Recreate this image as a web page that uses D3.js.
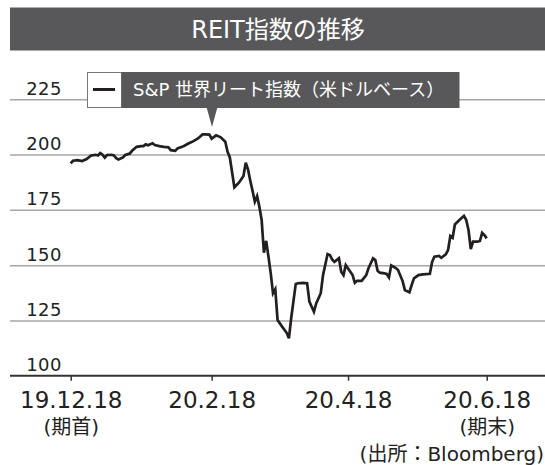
<html>
<head>
<meta charset="utf-8">
<style>
  body { margin: 0; background: #fff; }
  text { font-family: "DejaVu Sans", "Noto Sans CJK JP", sans-serif; }
</style>
</head>
<body>
<svg id="chart" width="545" height="465"></svg>
<script src="https://cdn.jsdelivr.net/npm/d3@7"></script>
<script>
const dates = [
  "2019-12-18","2019-12-19","2019-12-21","2019-12-23","2019-12-25","2019-12-27","2019-12-29","2019-12-30","2019-12-31",
  "2020-01-01","2020-01-02","2020-01-03","2020-01-05","2020-01-06","2020-01-07","2020-01-08","2020-01-10","2020-01-11",
  "2020-01-13","2020-01-14","2020-01-16","2020-01-18","2020-01-19","2020-01-20","2020-01-21","2020-01-23","2020-01-24",
  "2020-01-26","2020-01-28","2020-01-30","2020-01-31","2020-02-02","2020-02-03","2020-02-05","2020-02-06","2020-02-08",
  "2020-02-10","2020-02-12","2020-02-14","2020-02-15","2020-02-17","2020-02-18","2020-02-20","2020-02-22","2020-02-24",
  "2020-02-25","2020-02-26","2020-02-28","2020-03-01","2020-03-03","2020-03-04","2020-03-05","2020-03-06","2020-03-07",
  "2020-03-08","2020-03-09","2020-03-10","2020-03-11","2020-03-12","2020-03-13","2020-03-14","2020-03-15","2020-03-16",
  "2020-03-17","2020-03-18","2020-03-20","2020-03-22","2020-03-23","2020-03-24","2020-03-26","2020-03-27","2020-03-29",
  "2020-03-31","2020-04-01","2020-04-03","2020-04-04","2020-04-06","2020-04-07","2020-04-09","2020-04-10","2020-04-11",
  "2020-04-12","2020-04-14","2020-04-15","2020-04-16","2020-04-17","2020-04-19","2020-04-20","2020-04-21","2020-04-22",
  "2020-04-24","2020-04-26","2020-04-27","2020-04-29","2020-04-30","2020-05-01","2020-05-02","2020-05-04","2020-05-05",
  "2020-05-06","2020-05-07","2020-05-09","2020-05-10","2020-05-12","2020-05-13","2020-05-15","2020-05-16","2020-05-17",
  "2020-05-19","2020-05-21","2020-05-24","2020-05-25","2020-05-26","2020-05-28","2020-05-29","2020-05-31","2020-06-01",
  "2020-06-02","2020-06-03","2020-06-04","2020-06-06","2020-06-08","2020-06-09","2020-06-10","2020-06-11","2020-06-12",
  "2020-06-14","2020-06-15","2020-06-16","2020-06-17","2020-06-18"
]
const values = [
  196.0,197.2,197.5,197.1,198.0,199.6,199.9,199.6,200.7,
  199.9,198.6,199.8,199.9,199.6,198.4,197.8,198.7,199.8,
  200.5,201.7,203.5,203.8,203.8,204.6,204.2,205.1,204.3,
  203.8,203.5,203.3,202.0,201.7,202.8,203.5,204.0,205.1,
  206.1,207.3,209.1,209.1,209.0,207.2,208.7,207.8,205.8,
  201.3,198.7,185.2,187.3,190.3,196.3,193.3,188.2,183.6,
  178.7,181.2,176.4,170.4,155.6,161.0,153.8,146.3,137.3,
  139.1,125.2,122.2,119.4,116.9,126.1,141.5,141.8,142.0,
  141.8,133.5,128.9,132.7,137.3,145.5,155.0,154.6,152.6,
  151.5,153.1,147.0,145.5,150.0,147.0,145.5,142.0,142.9,
  142.9,145.5,148.6,153.1,152.3,147.5,146.6,146.3,146.0,
  144.4,149.9,148.7,147.8,142.8,138.7,137.7,141.0,144.0,
  145.5,145.8,146.1,151.5,153.8,154.2,153.3,154.9,156.8,
  163.2,162.4,168.4,170.4,172.3,170.4,165.9,157.3,160.6,
  160.6,160.9,164.6,163.6,162.1
]
const yTicks = [100, 125, 150, 175, 200, 225]
const xTicks = ["2019-12-18", "2020-02-18", "2020-04-18", "2020-06-18"]
const xTickLabels = ["19.12.18", "20.2.18", "20.4.18", "20.6.18"]
const xTickSubLabels = ["(期首)", "", "", "(期末)"]
const titleText = "REIT指数の推移"
const seriesName = "S&P 世界リート指数（米ドルベース）"
const sourceText = "(出所：Bloomberg)"

const parse = d3.timeParse("%Y-%m-%d")
const data = dates.map((d, i) => ({date: parse(d), value: values[i]}))

const svg = d3.select("#chart")
const dark = "#58585a"
const lineColor = "#231f20"

let x = d3.scaleTime()
    .domain([parse(xTicks[0]), parse(xTicks[3])])
    .range([70.7, 486.7])
let y = d3.scaleLinear()
    .domain([100, 225])
    .range([375.7, 99.3])

// title bar
svg.append("rect")
    .attr("x", 10).attr("y", 7.5)
    .attr("width", 535).attr("height", 43)
    .style("fill", dark)
svg.append("text")
    .attr("x", 278).attr("y", 38)
    .attr("text-anchor", "middle")
    .style("font-size", "24px")
    .style("fill", "#fff")
    .text(titleText)

// y grid + labels
let yAxis = d3.axisRight(y)
    .tickValues(yTicks)
    .tickSize(535)
    .tickFormat(d3.format("d"))
let gy = svg.append("g")
    .attr("transform", "translate(10,0)")
    .call(yAxis)
gy.select(".domain").remove()
gy.selectAll(".tick line")
    .style("stroke", "#a6a6a6")
    .style("stroke-width", 1.5)
gy.selectAll(".tick line").filter(d => d == 100).remove()
gy.selectAll(".tick text")
    .attr("x", 52)
    .attr("dy", -5)
    .attr("text-anchor", "end")
    .style("font-family", "'DejaVu Sans', sans-serif")
    .style("font-size", "18px")
    .style("letter-spacing", "0.5px")
    .style("fill", "#222")

// x axis
svg.append("line")
    .attr("x1", 10).attr("x2", 545)
    .attr("y1", y(100)).attr("y2", y(100))
    .style("stroke", "#333")
    .style("stroke-width", 2)
let xAxis = d3.axisBottom(x)
    .tickValues(xTicks.map(parse))
    .tickSize(5)
    .tickFormat((d, i) => xTickLabels[i])
let gx = svg.append("g")
    .attr("transform", `translate(0,${y(100)})`)
    .call(xAxis)
gx.select(".domain").remove()
gx.selectAll(".tick line")
    .style("stroke", "#333")
    .style("stroke-width", 1.5)
gx.selectAll(".tick text")
    .attr("y", 32)
    .attr("dy", 0)
    .style("font-family", "'DejaVu Sans', sans-serif")
    .style("font-size", "23px")
    .style("fill", "#222")
gx.selectAll(".tick")
    .append("text")
    .attr("y", 58)
    .attr("text-anchor", "middle")
    .style("font-size", "20px")
    .style("fill", "#222")
    .text((d, i) => xTickSubLabels[i])

// line
let line = d3.line()
    .x(d => x(d.date))
    .y(d => y(d.value))
svg.append("path")
    .datum(data)
    .attr("d", line)
    .style("fill", "none")
    .style("stroke", lineColor)
    .style("stroke-width", 2.7)
    .style("stroke-linejoin", "miter")

// legend
svg.append("rect")
    .attr("x", 87.5).attr("y", 72.5)
    .attr("width", 34).attr("height", 35)
    .style("fill", "#fff")
    .style("stroke", "#777")
    .style("stroke-width", 1)
svg.append("line")
    .attr("x1", 93).attr("x2", 115)
    .attr("y1", 89.5).attr("y2", 89.5)
    .style("stroke", lineColor)
    .style("stroke-width", 3)
svg.append("rect")
    .attr("x", 121.5).attr("y", 72)
    .attr("width", 338).attr("height", 36)
    .style("fill", dark)
svg.append("path")
    .attr("d", "M206.5,107 L217.5,107 L212,127 Z")
    .style("fill", dark)
svg.append("text")
    .attr("x", 133).attr("y", 96)
    .style("font-size", "18px")
    .style("fill", "#fff")
    .text(seriesName)

// source
svg.append("text")
    .attr("x", 544).attr("y", 461)
    .attr("text-anchor", "end")
    .style("font-size", "20px")
    .style("fill", "#222")
    .text(sourceText)
</script>
</body>
</html>
